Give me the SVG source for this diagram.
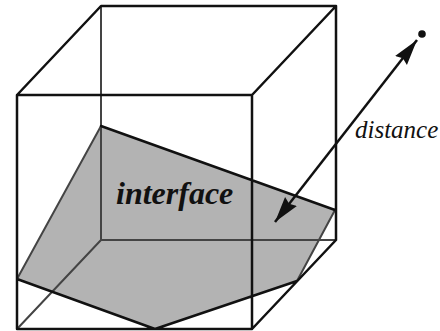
<svg xmlns="http://www.w3.org/2000/svg" width="440" height="331" viewBox="0 0 440 331">
<style>
.e{fill:none;stroke:#111;stroke-width:2.500;stroke-linecap:round;stroke-linejoin:round}
.h{fill:none;stroke:#444;stroke-width:2}
.t{font-family:"Liberation Serif",serif;font-style:italic;fill:#111}
</style>
<defs>
<marker id="a" markerUnits="userSpaceOnUse" markerWidth="28" markerHeight="20" refX="26" refY="10" orient="auto-start-reverse"><path d="M0 2.500L26 10L0 17.500L3 10Z" fill="#111"/></marker>
</defs>
<rect width="440" height="331" fill="#fff"/>
<g id="interface">
<polygon points="101,126 335,210 297,281 155,329 17,279" fill="#b3b3b3"/>
<text class="t" x="116" y="204" font-size="32" font-weight="bold">interface</text>
</g>
<g id="point"><circle cx="422" cy="34" r="3.800" fill="#111"/></g>
<g id="connectors">
<path class="h" d="M101 6V240H336M101 240L17 329M101 126L17 279M335 210L297 281"/>
<path class="e" d="M101 6H336V240L252 329H17V95ZM17 95H252V329M252 95L336 6M17 279L155 329L297 281M101 126L335 210"/>
<line x1="417" y1="40" x2="275" y2="222" stroke="#111" stroke-width="2.500" marker-start="url(#a)" marker-end="url(#a)"/>
</g>
<g id="distance-label"><text class="t" x="355" y="138" font-size="25">distance</text></g>
</svg>
